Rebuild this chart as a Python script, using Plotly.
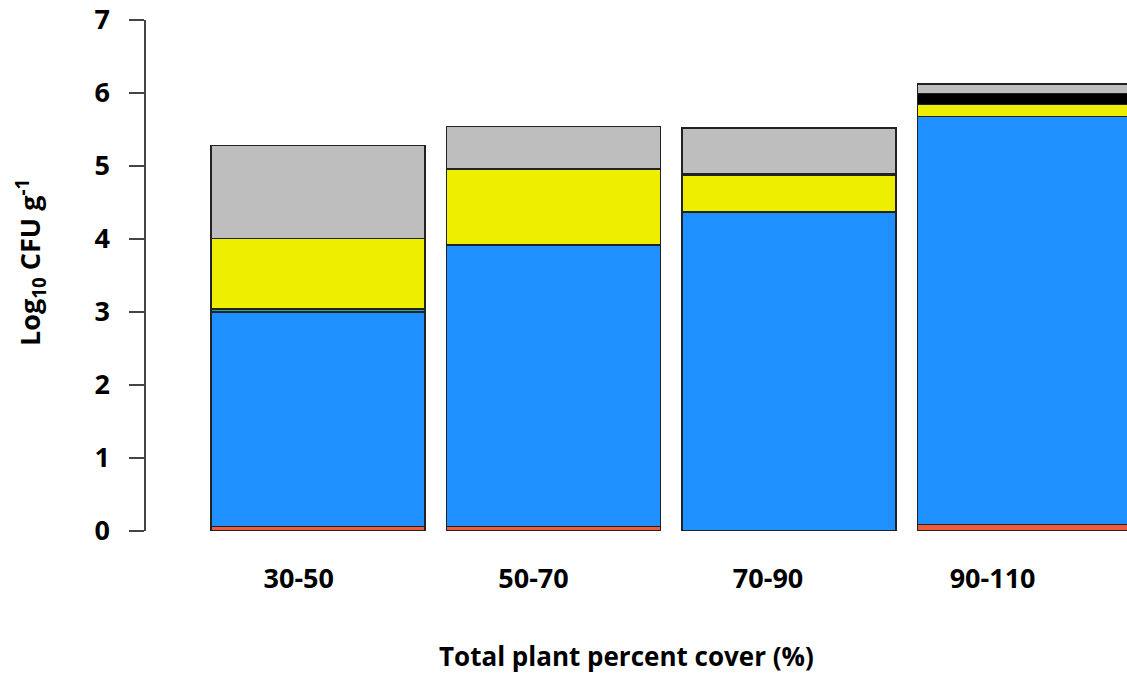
import plotly.graph_objects as go

categories = ["30-50", "50-70", "70-90", "90-110"]
red = [0.06, 0.06, None, 0.09]
blue = [2.94, 3.86, 4.37, 5.59]
green = [0.04, None, None, None]
yellow = [0.97, 1.04, 0.51, 0.16]
black = [None, None, 0.02, 0.15]
gray = [1.27, 0.58, 0.62, 0.13]
y_ticks = [0, 1, 2, 3, 4, 5, 6, 7]

series = [
    ("red", red, "#EE5A3A"),
    ("blue", blue, "#1E90FF"),
    ("green", green, "#1AA8A0"),
    ("yellow", yellow, "#EEEE00"),
    ("black", black, "#000000"),
    ("gray", gray, "#BEBEBE"),
]

centers = [0.6 + 1.1 * i for i in range(len(categories))]
# label positions as drawn in the reference (slightly left of bar centres)
label_pos = [0.51, 1.607, 2.703, 3.752]

fig = go.Figure()
for name, vals, col in series:
    fig.add_trace(go.Bar(
        x=centers, y=vals, width=1.0, name=name,
        marker=dict(color=col, line=dict(color="#222222", width=1.5)),
        showlegend=False,
    ))

font = "Open Sans"
fig.update_layout(
    barmode="stack",
    width=1127, height=677,
    margin=dict(l=146, r=0, t=18, b=146),
    plot_bgcolor="white", paper_bgcolor="white",
    xaxis=dict(
        range=[-0.2037, 4.380],
        tickvals=label_pos, ticktext=categories,
        showgrid=False, zeroline=False, showline=False,
        ticks="", ticklabelstandoff=29, ticklabeloverflow="allow",
        tickfont=dict(family=font, size=27, color="black", weight="bold"),
    ),
    yaxis=dict(
        range=[0, 7], tickvals=y_ticks,
        showgrid=False, zeroline=False,
        showline=True, linecolor="#444444", linewidth=1.5,
        ticks="outside", ticklen=15, tickwidth=1.5, tickcolor="#444444",
        ticklabelstandoff=14, ticklabeloverflow="allow",
        tickfont=dict(family=font, size=27, color="black", weight="bold"),
    ),
    annotations=[
        dict(text="Total plant percent cover (%)", xref="paper", yref="paper",
             x=(626 - 146) / (1127 - 146), y=-(656 - 531) / 513, showarrow=False,
             xanchor="center", yanchor="middle",
             font=dict(family=font, size=26, color="black", weight="bold")),
        dict(text="Log<sub>10</sub> CFU g<sup>-1</sup>", xref="paper", yref="paper",
             x=-(146 - 30) / 981, y=(531 - 262) / 513, showarrow=False, textangle=-90,
             xanchor="center", yanchor="middle",
             font=dict(family=font, size=27, color="black", weight="bold")),
    ],
)

fig.write_html("out.html", config={"displayModeBar": False},
               post_script="document.body.style.margin='0px';")
